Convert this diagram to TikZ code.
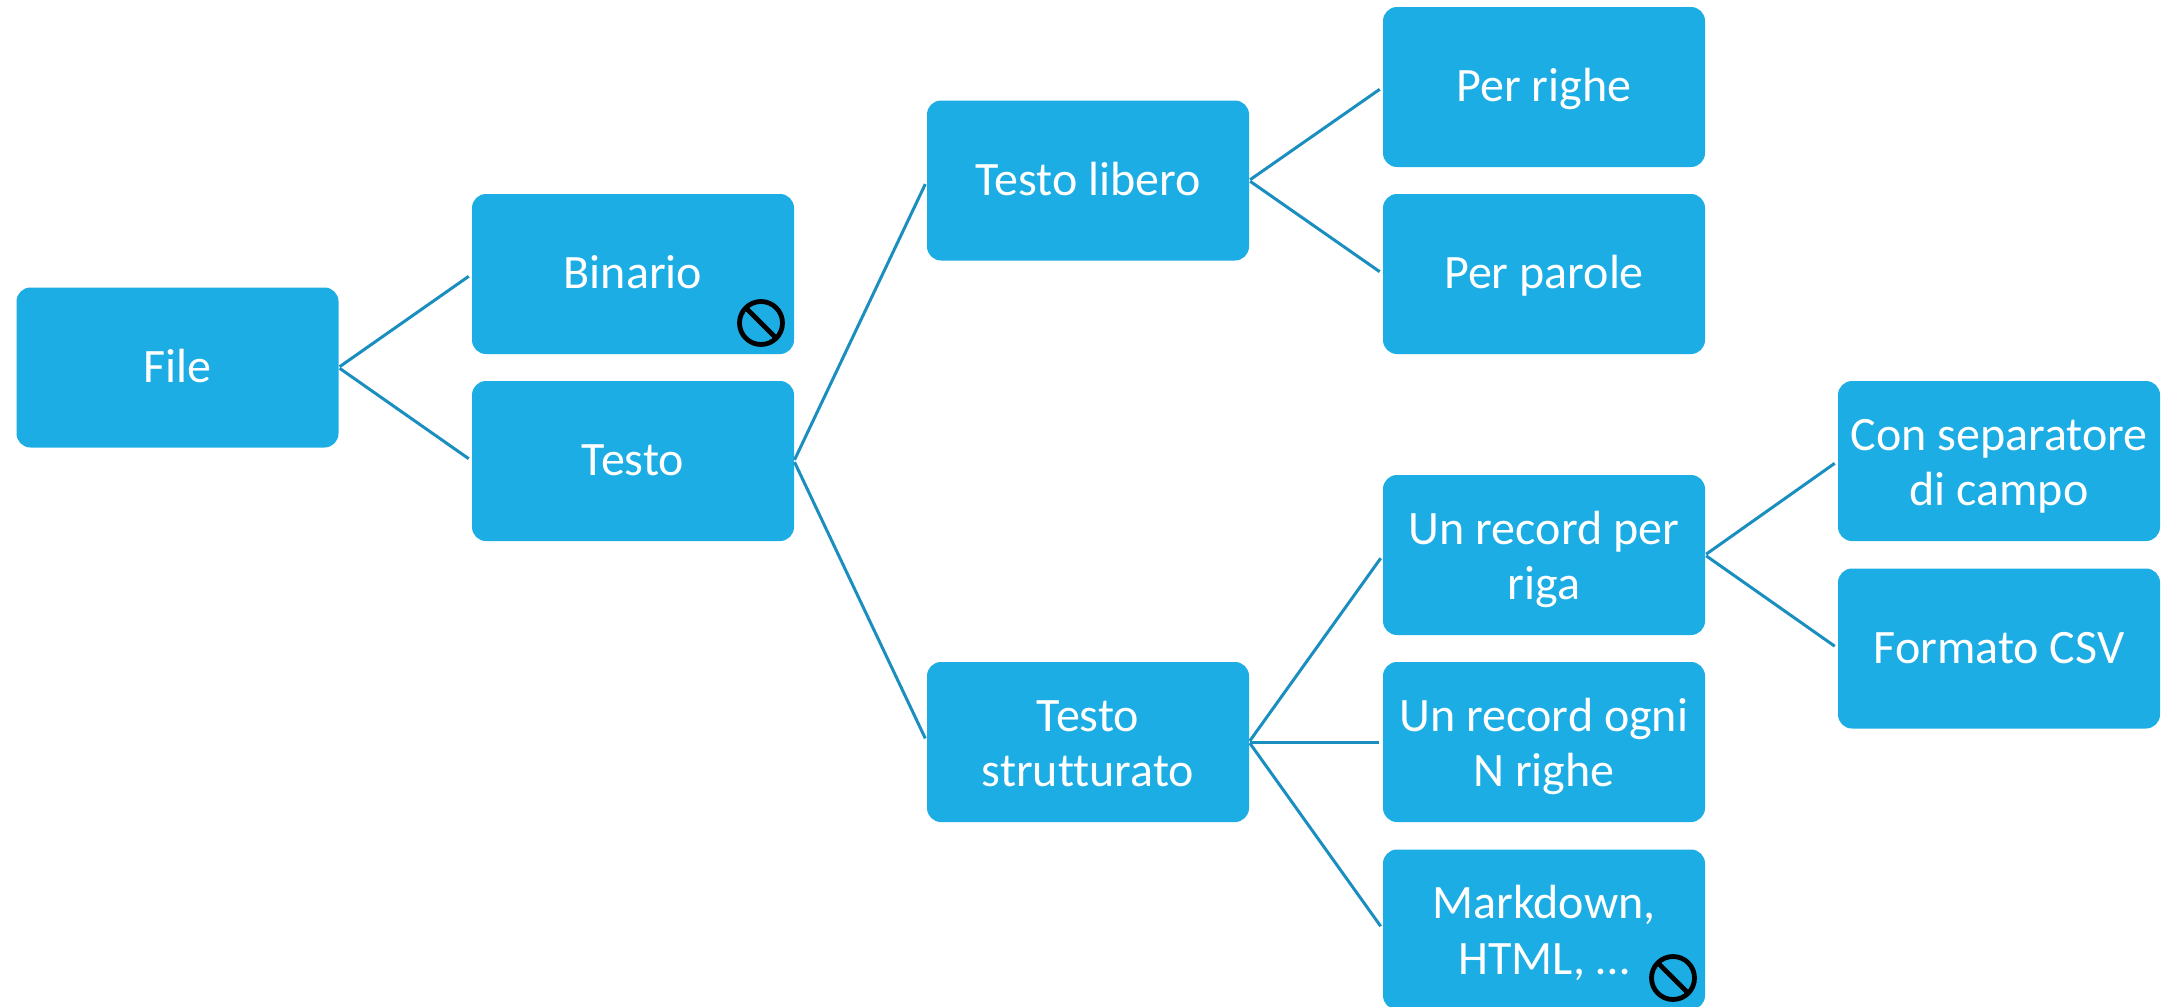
\documentclass[tikz,border=0pt]{standalone}
\usepackage{fontspec}
\setmainfont[Ligatures=NoCommon]{Carlito}
\usepackage{xcolor}
\definecolor{boxblue}{HTML}{1CADE4}
\definecolor{lineblue}{HTML}{1A8FBF}
\newcommand{\firstline}{\rule{0pt}{21pt}}
\tikzset{
    box/.style={fill=boxblue, rounded corners=7pt, minimum width=161pt, minimum height=80pt,
        inner sep=0pt, outer sep=0pt, align=center, text=white, font=\fontsize{24}{27.7}\selectfont,
        execute at begin node=\rule{0pt}{19pt}, execute at end node=\vphantom{g}},
    branch/.style={draw=lineblue, line width=1.5pt, shorten <=0.7pt, shorten >=2pt},
    forbid/.style={circle, draw=black, line width=2.4pt, minimum size=21.5pt, inner sep=0pt, outer sep=0pt},
    forbidbar/.style={draw=black, line width=2.4pt}
}
\begin{document}
\begin{tikzpicture}[x=0.5pt, y=-0.5pt]
    \useasboundingbox (0,0) rectangle (2170,1007);

    %% first levels
    \node[box] (file)    at (177.5,367.5) {File};
    \node[box] (binario) at (633,274) {Binario};
    \node[box] (testo)   at (633,461) {Testo};

    %% testo
    \node[box] (libero)     at (1088,180.5)   {Testo libero};
    \node[box] (strutturato) at (1088,742) {\firstline Testo\\strutturato};

    %% testo libero
    \node[box] (righe)  at (1544,87)  {Per righe};
    \node[box] (parole) at (1544,274) {Per parole};

    %% testo strutturato
    \node[box] (riga)     at (1544,555) {\firstline Un record per\\riga};
    \node[box] (ogni)     at (1544,742) {\firstline Un record ogni\\N righe};
    \node[box] (markdown) at (1544,929.5)   {\firstline Markdown,\\HTML, …};

    %% un record per riga
    \node[box] (campo) at (1999,461) {\firstline Con separatore\\di campo};
    \node[box] (csv)   at (1999,648.5) {Formato CSV};

    %% connectors
    \draw[branch] (file.east) -- (binario.west);
    \draw[branch] (file.east) -- (testo.west);
    \draw[branch] (testo.east) -- (libero.west);
    \draw[branch] (testo.east) -- (strutturato.west);
    \draw[branch] (libero.east) -- (righe.west);
    \draw[branch] (libero.east) -- (parole.west);
    \draw[branch] (strutturato.east) -- (riga.west);
    \draw[branch] (strutturato.east) -- (ogni.west);
    \draw[branch] (strutturato.east) -- (markdown.west);
    \draw[branch] (riga.east) -- (campo.west);
    \draw[branch] (riga.east) -- (csv.west);

    %% forbidden signs
    \node[forbid] (nobinario) at (761,323) {};
    \draw[forbidbar] (nobinario.north west) -- (nobinario.south east);
    \node[forbid] (nomarkdown) at (1673,978) {};
    \draw[forbidbar] (nomarkdown.north west) -- (nomarkdown.south east);
\end{tikzpicture}
\end{document}
